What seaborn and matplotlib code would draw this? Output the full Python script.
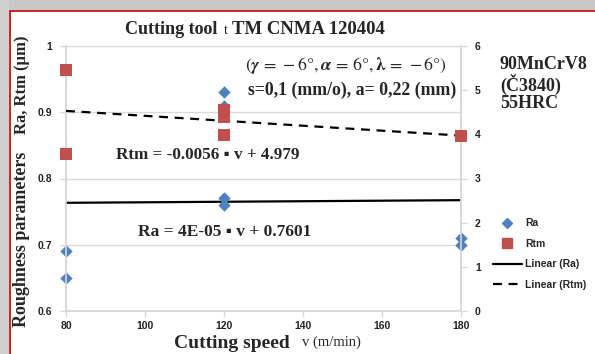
import matplotlib
matplotlib.use("Agg")
import matplotlib.pyplot as plt
import seaborn as sns
import pandas as pd
import numpy as np
from matplotlib.lines import Line2D
from matplotlib.patches import Rectangle

# ---- data ----
ra_speed = [80, 80, 120, 120, 120, 120, 180, 180]
ra_values = [0.69, 0.65, 0.93, 0.91, 0.77, 0.76, 0.71, 0.70]
rtm_speed = [80, 80, 120, 120, 120, 120, 180, 180]
rtm_values = [5.46, 3.55, 4.55, 4.45, 4.40, 3.98, 3.96, 3.96]
trend_speed = [80, 180]
ra_slope, ra_intercept = 4e-05, 0.7601
rtm_slope, rtm_intercept = -0.0056, 4.979
x_ticks = [80, 100, 120, 140, 160, 180]
left_ticks = [0.6, 0.7, 0.8, 0.9, 1.0]
left_tick_labels = ["0.6", "0.7", "0.8", "0.9", "1"]
right_ticks = [0, 1, 2, 3, 4, 5, 6]

sns.set_theme(style="white")
plt.rcParams['font.family'] = ['Liberation Serif', 'DejaVu Serif']
plt.rcParams['mathtext.fontset'] = 'stix'

BLUE = "#4F81BD"
RED = "#C0504D"
GRID = "#D9D9D9"

fig = plt.figure(figsize=(5.95, 3.54), dpi=100)
fig.patch.set_facecolor("white")
ax = fig.add_axes([66/595, 1-311/354, (461-66)/595, (311-46)/354])
ax2 = ax.twinx()

ra_df = pd.DataFrame({"v": ra_speed, "Ra": ra_values})
rtm_df = pd.DataFrame({"v": rtm_speed, "Rtm": rtm_values})
tr = np.array(trend_speed, dtype=float)
ra_tr = pd.DataFrame({"v": tr, "y": ra_slope*tr + ra_intercept})
rtm_tr = pd.DataFrame({"v": tr, "y": rtm_slope*tr + rtm_intercept})

sns.lineplot(data=ra_tr, x="v", y="y", ax=ax, color="black", lw=1.6, zorder=3)
sns.scatterplot(data=ra_df, x="v", y="Ra", ax=ax, marker="D", s=40, color=BLUE,
                edgecolor=BLUE, linewidth=0, zorder=4, clip_on=False)
sns.lineplot(data=rtm_tr, x="v", y="y", ax=ax2, color="black", lw=1.6,
             linestyle=(0, (4, 3)), zorder=3)
sns.scatterplot(data=rtm_df, x="v", y="Rtm", ax=ax2, marker="s", s=70, color=RED,
                edgecolor=RED, linewidth=0, zorder=4, clip_on=False)

ax.set_xlim(80, 180)
ax.set_ylim(0.6, 1.0)
ax2.set_ylim(0, 6)
ax.set_xticks(x_ticks)
ax.set_xticklabels([str(t) for t in x_ticks])
ax.set_yticks(left_ticks)
ax.set_yticklabels(left_tick_labels)
ax2.set_yticks(right_ticks)
ax2.set_yticklabels([str(t) for t in right_ticks])
ax.set_xlabel("")
ax.set_ylabel("")
ax2.set_ylabel("")

ax.yaxis.grid(True, color=GRID, lw=1)
ax.set_axisbelow(True)
for a in (ax, ax2):
    a.spines["top"].set_visible(False)
    for s in ("left", "right", "bottom"):
        a.spines[s].set_color(GRID)
        a.spines[s].set_linewidth(1.2)
ax.tick_params(axis="y", which="both", length=4, color=GRID, width=1, pad=6,
               labelsize=7.5, left=True)
ax.tick_params(axis="x", which="both", length=4, color=GRID, width=1, pad=3,
               labelsize=7.5, bottom=True)
ax2.tick_params(axis="y", length=4, color=GRID, width=1, pad=6, labelsize=7.5, right=True)
for lab in ax.get_xticklabels() + ax.get_yticklabels() + ax2.get_yticklabels():
    lab.set_fontfamily("Liberation Sans")
    lab.set_fontweight("bold")
    lab.set_color("#222222")

# ---- title and labels ----
fig.text(125/595, 1-30/354, "Cutting tool", fontsize=13, fontweight="bold",
         ha="left", va="center")
fig.text(224/595, 1-31/354, "t", fontsize=10, ha="left", va="center")
fig.text(232/595, 1-30/354, "TM CNMA 120404", fontsize=13.5, fontweight="bold",
         ha="left", va="center")

fig.text(22/595, 1-239/354, "Roughness parameters", rotation=90, fontsize=13,
         fontweight="bold", ha="center", va="center")
fig.text(22/595, 1-85/354, "Ra, Rtm (µm)", rotation=90, fontsize=12,
         fontweight="bold", ha="center", va="center")

fig.text(232/595, 1-344/354, "Cutting speed", fontsize=14, fontweight="bold",
         ha="center", va="center")
fig.text(331/595, 1-342/354, "v (m/min)", fontsize=10.5, ha="center", va="center")

# ---- annotations ----
fig.text(346/595, 1-65/354,
         r"$(\boldsymbol{\gamma}\,=\,-6°,\boldsymbol{\alpha}\,=\,6°,\boldsymbol{\lambda}\,=\,-6°)$",
         fontsize=12.8, ha="center", va="center")
fig.text(352/595, 1-90/354, "s=0,1 (mm/o), a= 0,22 (mm)", fontsize=12.8,
         fontweight="bold", ha="center", va="center")
fig.text(208/595, 1-155/354, "Rtm = -0.0056 ▪ v + 4.979", fontsize=12.3,
         fontweight="bold", ha="center", va="center",
         family=['Liberation Serif', 'DejaVu Sans'])
fig.text(225/595, 1-232/354, "Ra = 4E-05 ▪ v + 0.7601", fontsize=12.5,
         fontweight="bold", ha="center", va="center",
         family=['Liberation Serif', 'DejaVu Sans'])
fig.text(500/595, 1-84/354, "90MnCrV8\n(Č3840)\n55HRC", fontsize=13,
         fontweight="bold", ha="left", va="center", linespacing=1.05)

# ---- legend ----
handles = [
    Line2D([], [], marker="D", color=BLUE, linestyle="none", markersize=5),
    Line2D([], [], marker="s", color=RED, linestyle="none", markersize=7),
    Line2D([], [], color="black", lw=1.6),
    Line2D([], [], color="black", lw=1.6, linestyle=(0, (4, 3))),
]
labels = ["Ra", "Rtm", "Linear (Ra)", "Linear (Rtm)"]
fig.legend(handles, labels, loc="upper left",
           bbox_to_anchor=(484/595, 1-209/354), frameon=False,
           handlelength=2.7, handletextpad=0.35, labelspacing=1.0,
           prop={"family": "Liberation Sans", "size": 7.5, "weight": "bold"})

# ---- frame (screenshot border) ----
fig.patches.append(Rectangle((0, 1-10/354), 1, 10/354, transform=fig.transFigure,
                             facecolor="#C8C8C8", edgecolor="none", zorder=0))
fig.lines.append(Line2D([10/595, 1], [1-11/354, 1-11/354], transform=fig.transFigure,
                        color="#C00000", lw=1.2))
fig.lines.append(Line2D([10/595, 10/595], [0, 1-11/354], transform=fig.transFigure,
                        color="#C00000", lw=1.2))
fig.patches.append(Rectangle((0, 0), 9/595, 1, transform=fig.transFigure,
                             facecolor="#D0D0D0", edgecolor="none", zorder=0))

fig.savefig("out.png", dpi=100)
